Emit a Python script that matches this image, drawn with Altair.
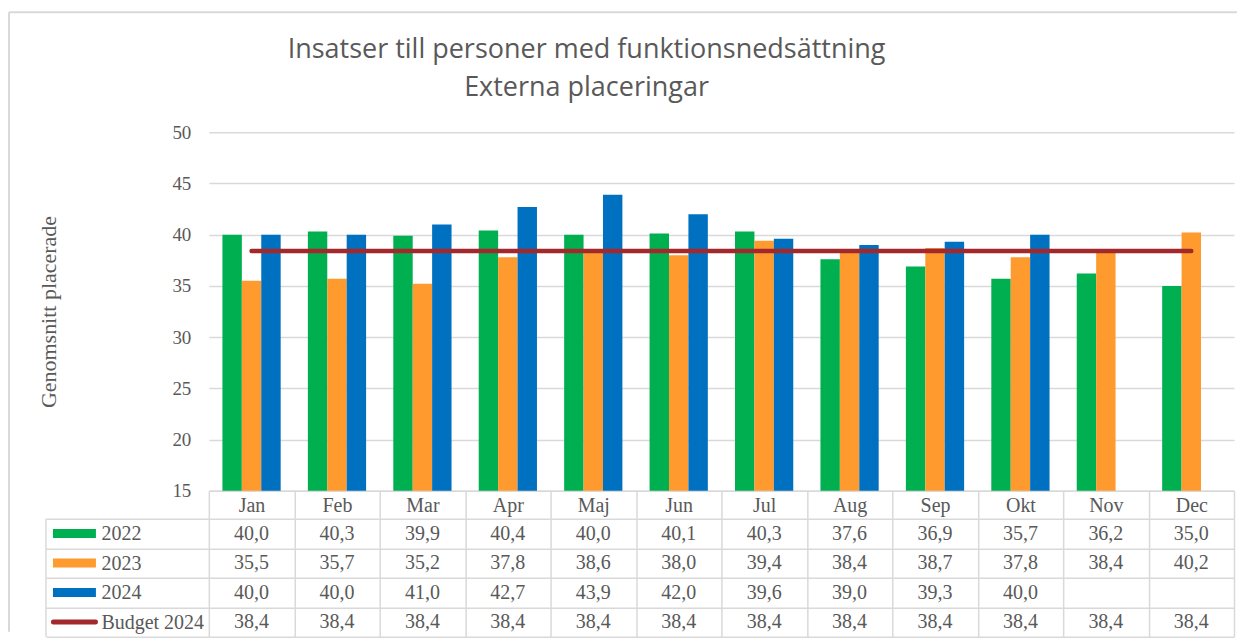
import altair as alt
import pandas as pd

months = ["Jan", "Feb", "Mar", "Apr", "Maj", "Jun", "Jul", "Aug", "Sep", "Okt", "Nov", "Dec"]
v2022 = [40.0, 40.3, 39.9, 40.4, 40.0, 40.1, 40.3, 37.6, 36.9, 35.7, 36.2, 35.0]
v2023 = [35.5, 35.7, 35.2, 37.8, 38.6, 38.0, 39.4, 38.4, 38.7, 37.8, 38.4, 40.2]
v2024 = [40.0, 40.0, 41.0, 42.7, 43.9, 42.0, 39.6, 39.0, 39.3, 40.0, None, None]
budget2024 = [38.4, 38.4, 38.4, 38.4, 38.4, 38.4, 38.4, 38.4, 38.4, 38.4, 38.4, 38.4]
series_names = ["2022", "2023", "2024", "Budget 2024"]
bar_series = ["2022", "2023", "2024"]
colors = ["#00b050", "#ff9a2e", "#0070c0", "#a3282b"]
title_lines = ["Insatser till personer med funktionsnedsättning", "Externa placeringar"]
y_title = "Genomsnitt placerade"
y_ticks = [15, 20, 25, 30, 35, 40, 45, 50]

rows = []
for name, vals in zip(series_names, [v2022, v2023, v2024, budget2024]):
    for m, v in zip(months, vals):
        rows.append({"month": m, "series": name, "value": v})
df = pd.DataFrame(rows)
df["label"] = df["value"].map(lambda v: "" if pd.isna(v) else f"{v:.1f}".replace(".", ","))

df_bars = df[df["series"].isin(bar_series) & df["value"].notna()]
df_budget = df[df["series"] == "Budget 2024"]
df_rows = pd.DataFrame({"series": series_names})
one = pd.DataFrame({"a": [0]})

W, H = 1026, 359
T_TOP, T_BOT = H + 28, H + 146
SERIF = "Liberation Serif"
GRAY = "#595959"
LINE = "#d9d9d9"
FS = 20

color_scale = alt.Scale(domain=series_names, range=colors)

x_enc = alt.X(
    "month:N", sort=months,
    scale=alt.Scale(domain=months, paddingInner=0, paddingOuter=0),
    axis=alt.Axis(title=None, orient="bottom", labelAngle=0, labelFont=SERIF, labelFontSize=FS,
                  labelColor=GRAY, labelPadding=-141, tickBand="extent", ticks=True, tickSize=146,
                  tickColor=LINE, tickWidth=1.5, domain=True, domainColor=LINE, domainWidth=1.5,
                  grid=False),
)

y_scale = alt.Scale(domain=[15, 50], zero=False, nice=False)
y_axis = alt.Axis(title=y_title, titleFont=SERIF, titleFontSize=22, titleFontWeight="normal",
                  titleColor=GRAY, titlePadding=111, values=y_ticks, labelFont=SERIF, labelFontSize=19,
                  labelColor=GRAY, labelPadding=18, ticks=False, domain=False, grid=True,
                  gridColor=LINE, gridWidth=1.5)

bars = alt.Chart(df_bars).mark_bar().encode(
    x=x_enc,
    xOffset=alt.XOffset("series:N", sort=bar_series,
                        scale=alt.Scale(domain=bar_series, paddingInner=0, paddingOuter=0.7)),
    y=alt.Y("value:Q", scale=y_scale, axis=y_axis),
    y2=alt.datum(15),
    color=alt.Color("series:N", scale=color_scale, legend=None),
)

line = alt.Chart(df_budget).mark_line(strokeWidth=4.5, strokeCap="round").encode(
    x=x_enc,
    y=alt.Y("value:Q", scale=y_scale, axis=y_axis),
    color=alt.Color("series:N", scale=color_scale, legend=None),
)

t_scale = alt.Scale(type="band", domain=series_names, range=[T_TOP, T_BOT], paddingInner=0, paddingOuter=0)
t_axis = alt.Axis(orient="left", title=None, tickBand="extent", ticks=True, tickSize=163, tickColor=LINE,
                  tickWidth=1.5, grid=True, gridColor=LINE, gridWidth=1.5, domain=False,
                  labelAlign="left", labelPadding=-55, labelFont=SERIF, labelFontSize=FS,
                  labelColor=GRAY, labelBaseline="middle")
t_y = alt.Y("series:N", sort=series_names, scale=t_scale, axis=t_axis)

table_text = alt.Chart(df).mark_text(font=SERIF, fontSize=FS, color=GRAY).encode(
    x=x_enc, y=t_y, text="label:N",
)

sw_bars = alt.Chart(df_rows[df_rows["series"].isin(bar_series)]).mark_rule(strokeWidth=9).encode(
    x=alt.value(-156), x2=alt.value(-113), y=t_y,
    color=alt.Color("series:N", scale=color_scale, legend=None),
)
sw_line = alt.Chart(df_rows[df_rows["series"] == "Budget 2024"]).mark_rule(strokeWidth=5, strokeCap="round").encode(
    x=alt.value(-155.5), x2=alt.value(-113.5), y=t_y,
    color=alt.Color("series:N", scale=color_scale, legend=None),
)
left_border = alt.Chart(one).mark_rule(color=LINE, strokeWidth=1.5).encode(
    x=alt.value(-163), y=alt.value(T_TOP), y2=alt.value(T_BOT),
)

frame_top = alt.Chart(one).mark_rule(color=LINE, strokeWidth=2).encode(
    x=alt.value(-200), x2=alt.value(1029), y=alt.value(-120),
)
frame_left = alt.Chart(one).mark_rule(color=LINE, strokeWidth=2).encode(
    x=alt.value(-200), y=alt.value(-120), y2=alt.value(500),
)

plot = alt.layer(bars, line)
table = alt.layer(table_text, sw_bars, sw_line, left_border)

chart = alt.layer(frame_top, frame_left, plot, table).resolve_scale(y="independent").properties(
    width=W, height=H,
    title=alt.TitleParams(title_lines, font="Open Sans", fontSize=27, fontWeight="normal", color=GRAY,
                          anchor="middle", frame="group", dx=-135, offset=-91, lineHeight=38),
    padding={"left": 0, "top": 3, "right": 0, "bottom": 0},
    background="white",
).configure_view(stroke=None)

chart.save("out.html", embed_options={"renderer": "svg", "actions": False})
